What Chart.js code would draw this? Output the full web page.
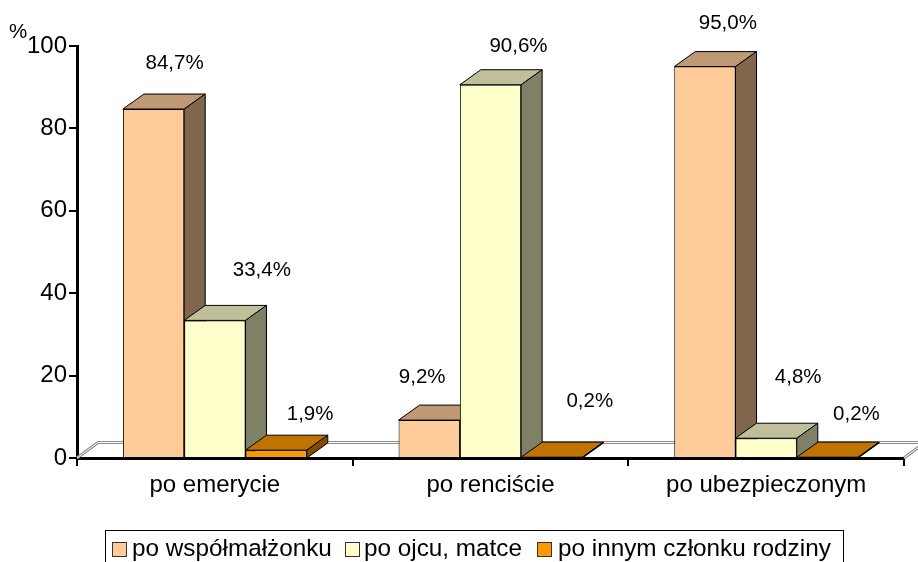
<!DOCTYPE html>
<html lang="pl">
<head>
<meta charset="utf-8">
<title>Wykres</title>
<script src="https://cdn.jsdelivr.net/npm/chart.js@4"></script>
<style>
    html, body { margin: 0; padding: 0; background: #fff; overflow: hidden; }
    #wrap { position: relative; width: 918px; height: 562px; overflow: hidden; font-family: "Liberation Sans", Arial, sans-serif; color: #000; }
    #legend { position: absolute; left: 105px; top: 530px; width: 737px; height: 50px; border: 1px solid #000; box-sizing: content-box; font-size: 24.3px; }
    #legend span { position: absolute; top: 3px; line-height: 28px; white-space: nowrap; }
    #legend i { position: absolute; top: 11px; width: 13px; height: 13px; border: 1px solid #333; }
</style>
</head>
<body>
<div id="wrap">
    <canvas id="chart" width="918" height="562"></canvas>
    <div id="legend"></div>
</div>
<script>
    "use strict";

    const categories = ['po emerycie', 'po renciście', 'po ubezpieczonym'];
    const seriesNames = ['po współmałżonku', 'po ojcu, matce', 'po innym członku rodziny'];
    const spouse = [84.7, 9.2, 95.0];
    const parent = [33.4, 90.6, 4.8];
    const otherFamily = [1.9, 0.2, 0.2];
    const yTicks = [0, 20, 40, 60, 80, 100];

    const colors = [[255, 204, 153], [255, 255, 204], [255, 153, 0]];

    // hand placed value labels, offset from bar centre / bar top
    const labelOffsets = [
        [[21, -46], [-7, -43], [23, -43]],
        [[47, -50], [28, -38], [32, -61]],
        [[34, -36], [38, -56], [29, -43]]
    ];

    const depthX = 21;
    const depthY = 15;

    const rgb = (c, k) => `rgb(${Math.round(c[0] * k)},${Math.round(c[1] * k)},${Math.round(c[2] * k)})`;
    const pl = v => v.toFixed(1).replace('.', ',') + '%';

    function poly(ctx, pts, fill, stroke) {
        ctx.beginPath();
        pts.forEach((p, i) => i ? ctx.lineTo(p[0], p[1]) : ctx.moveTo(p[0], p[1]));
        ctx.closePath();
        if (fill) { ctx.fillStyle = fill; ctx.fill(); }
        ctx.strokeStyle = stroke || '#000';
        ctx.lineWidth = 1;
        ctx.stroke();
    }

    // Back wall floor line and the 3D sides of the bars
    const depthPlugin = {
        id: 'depth',
        beforeDatasetsDraw(chart) {
            const ctx = chart.ctx;
            const a = chart.chartArea;
            const y0 = chart.scales.y.getPixelForValue(0);
            const wallY = y0 - depthY - 0.5;

            ctx.save();
            ctx.beginPath();
            ctx.moveTo(a.left, y0);
            ctx.lineTo(a.left + depthX, wallY);
            ctx.lineTo(a.right + depthX, wallY);
            ctx.lineTo(a.right, y0);
            ctx.lineJoin = 'round';
            ctx.strokeStyle = '#8c8c8c';
            ctx.lineWidth = 3;
            ctx.stroke();
            ctx.strokeStyle = '#fff';
            ctx.lineWidth = 1;
            ctx.stroke();

            for (let i = 0; i < categories.length; i++) {
                chart.data.datasets.forEach((ds, d) => {
                    const bar = chart.getDatasetMeta(d).data[i];
                    const left = bar.x - bar.width / 2;
                    const right = bar.x + bar.width / 2;
                    const top = bar.y;
                    poly(ctx, [[left, top], [left + depthX, top - depthY], [right + depthX, top - depthY], [right, top]], rgb(colors[d], 0.75));
                    poly(ctx, [[right, top], [right + depthX, top - depthY], [right + depthX, y0 - depthY], [right, y0]], rgb(colors[d], 0.5));
                });
            }
            ctx.restore();
        },
        afterDraw(chart) {
            const ctx = chart.ctx;
            ctx.save();
            ctx.fillStyle = '#000';
            ctx.textAlign = 'center';
            ctx.textBaseline = 'middle';
            ctx.font = '20.5px "Liberation Sans"';
            chart.data.datasets.forEach((ds, d) => {
                chart.getDatasetMeta(d).data.forEach((bar, i) => {
                    const off = labelOffsets[d][i];
                    ctx.fillText(pl(ds.data[i]), bar.x + off[0], bar.y + off[1]);
                });
            });
            ctx.fillText('%', 18, 32.5);
            ctx.restore();
        }
    };

    new Chart(document.getElementById('chart'), {
        type: 'bar',
        plugins: [depthPlugin],
        data: {
            labels: categories,
            datasets: seriesNames.map((name, d) => ({
                label: name,
                data: [spouse, parent, otherFamily][d],
                backgroundColor: rgb(colors[d], 1),
                borderColor: '#000',
                borderWidth: 1,
                barPercentage: 1,
                categoryPercentage: 0.667
            }))
        },
        options: {
            responsive: false,
            animation: false,
            layout: { padding: { top: 46, right: 14, left: 0, bottom: 0 } },
            plugins: { legend: { display: false }, tooltip: { enabled: false }, title: { display: false } },
            scales: {
                x: {
                    z: 1,
                    afterFit(s) { s.height = 104; },
                    border: { color: '#000', width: 3 },
                    grid: { drawOnChartArea: false, color: '#000', lineWidth: 2, tickLength: 8 },
                    ticks: { color: '#000', font: { family: '"Liberation Sans"', size: 24 }, padding: 5, maxRotation: 0 }
                },
                y: {
                    z: 1,
                    min: 0,
                    max: 100,
                    afterFit(s) { s.width = 77; },
                    afterBuildTicks(s) { s.ticks = yTicks.map(v => ({ value: v })); },
                    border: { color: '#000', width: 3 },
                    grid: { drawOnChartArea: false, color: '#000', lineWidth: 2, tickLength: 8 },
                    ticks: { color: '#000', font: { family: '"Liberation Sans"', size: 24 }, padding: 2 }
                }
            }
        }
    });

    // Legend under the chart, cut by the bottom edge like the original
    const legendX = [[6, 26], [239, 258], [431, 452]];
    const legend = document.getElementById('legend');
    seriesNames.forEach((name, d) => {
        const box = document.createElement('i');
        box.style.left = legendX[d][0] + 'px';
        box.style.background = rgb(colors[d], 1);
        const txt = document.createElement('span');
        txt.style.left = legendX[d][1] + 'px';
        txt.textContent = name;
        legend.append(box, txt);
    });
</script>
</body>
</html>
